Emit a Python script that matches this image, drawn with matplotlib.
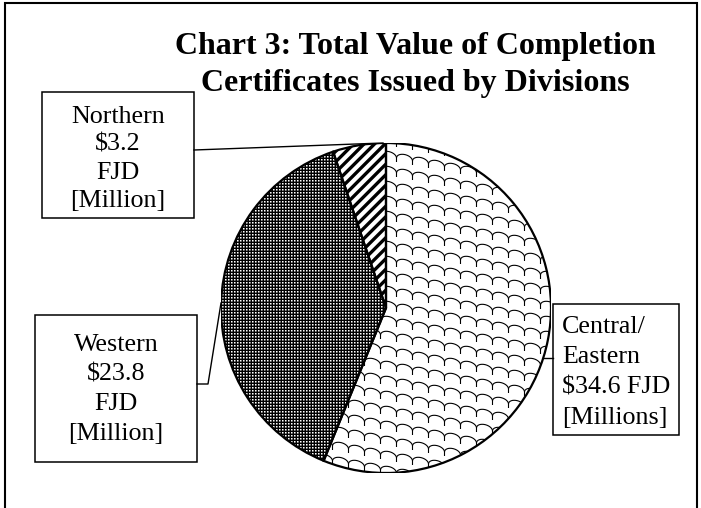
import numpy as np
import matplotlib
matplotlib.use("Agg")
import matplotlib.pyplot as plt
import matplotlib.patches as mpatches
from matplotlib.collections import LineCollection
from matplotlib.lines import Line2D

# data
divisions = ["Central/Eastern", "Western", "Northern"]
values = [34.6, 23.8, 3.2]
label_text = [
    ["Central/", "Eastern", "$34.6 FJD", "[Millions]"],
    ["Western", "$23.8", "FJD", "[Million]"],
    ["Northern", "$3.2", "FJD", "[Million]"],
]
title_lines = ["Chart 3: Total Value of Completion",
               "Certificates Issued by Divisions"]

W, H = 701, 508
SERIF = "Liberation Serif"


def fx(x):
    return x / W


def fy(y):
    return 1 - y / H


fig = plt.figure(figsize=(W / 100, H / 100), dpi=100)
fig.patch.set_facecolor("white")

# outer frame (bottom edge is cut off in the original)
fig.add_artist(mpatches.Rectangle((fx(5), fy(530)), (697 - 5) / W, (530 - 3) / H,
                                  transform=fig.transFigure, fill=False,
                                  ec="black", lw=1.5))

# title
fig.text(fx(415), fy(54), title_lines[0], ha="center", va="baseline",
         fontsize=23, fontweight="bold", family=SERIF)
fig.text(fx(415), fy(91), title_lines[1], ha="center", va="baseline",
         fontsize=23, fontweight="bold", family=SERIF)

# pie
cx, cy, r = 386, 308, 165
ax = fig.add_axes([fx(cx - r), fy(cy + r), 2 * r / W, 2 * r / H])
wedges, _ = ax.pie(values, startangle=90, counterclock=False,
                   colors=["white"] * 3,
                   wedgeprops=dict(edgecolor="none", linewidth=0))
ax.set_axis_off()

px = 1.0 / r  # one pixel in data units

# Central/Eastern: shingle pattern (humps drifting down to the right)
cw, ch = 16 * px, 15 * px
drop, step = 3 * px, 4 * px
t = np.linspace(np.pi, 0, 16)
segs = []
for y0 in np.arange(-1.6, 1.6, ch):
    for j, x0 in enumerate(np.arange(-1.1, 1.1, cw)):
        ys = y0 - j * drop
        xs = x0 + cw / 2 + cw / 2 * np.cos(t)
        yy = ys - drop * (xs - x0) / cw + 5 * px * np.sin(t)
        pts = np.column_stack([xs, yy])
        pts = np.vstack([pts, [x0 + cw, yy[-1] - step]])
        segs.append(pts)
lc = LineCollection(segs, colors="black", linewidths=0.8, zorder=2)
ax.add_collection(lc)
lc.set_clip_path(wedges[0])

# Western: white dots on black
n = 2 * r
img = np.zeros((n, n, 3))
ii, jj = np.mgrid[0:n, 0:n]
img[(ii % 3 == 1) & (jj % 3 == 1)] = 1.0
img[(ii % 3 == 1) & (jj % 3 == 2)] = 0.55
img[(ii % 3 == 2) & (jj % 3 == 1)] = 0.55
img[(ii % 3 == 2) & (jj % 3 == 2)] = 0.3
im = ax.imshow(img, extent=(-1, 1, -1, 1), interpolation="nearest", zorder=2)
im.set_clip_path(wedges[1])

# Northern: thick diagonal stripes
segs = [[(-1.2, c - 1.2), (1.2, c + 1.2)] for c in np.arange(-2.5, 2.5, 10.5 * px)]
lc2 = LineCollection(segs, colors="black", linewidths=2.4, zorder=2)
ax.add_collection(lc2)
lc2.set_clip_path(wedges[2])

# outlines
for w in wedges:
    ax.add_patch(mpatches.Wedge(w.center, w.r, w.theta1, w.theta2, fill=False,
                                ec="black", lw=1.6, zorder=5))
ax.set_xlim(-1, 1)
ax.set_ylim(-1, 1)

# label boxes
boxes = [(553, 304, 679, 435), (35, 315, 197, 462), (42, 92, 194, 218)]
first_line = [327, 345, 117]
spacing = [30.3, 29.5, 28]
for i, (x0, y0, x1, y1) in enumerate(boxes):
    fig.add_artist(mpatches.Rectangle((fx(x0), fy(y1)), (x1 - x0) / W, (y1 - y0) / H,
                                      transform=fig.transFigure, fill=False,
                                      ec="black", lw=1.1))
    for j, line in enumerate(label_text[i]):
        yy = first_line[i] + j * spacing[i]
        if i == 0:
            fig.text(fx(562), fy(yy), line, ha="left", va="center",
                     fontsize=18.7, family=SERIF, parse_math=False)
        else:
            fig.text(fx((x0 + x1) / 2), fy(yy), line, ha="center", va="center",
                     fontsize=18.7, family=SERIF, parse_math=False)

# leader lines
leaders = [
    ([543, 553], [358, 358]),
    ([197, 208, 221], [384, 384, 303]),
    ([194, 383], [150, 143]),
]
for xs, ys in leaders:
    fig.add_artist(Line2D([fx(v) for v in xs], [fy(v) for v in ys],
                          transform=fig.transFigure, color="black", lw=1.0))

fig.savefig("out.png", dpi=100)
